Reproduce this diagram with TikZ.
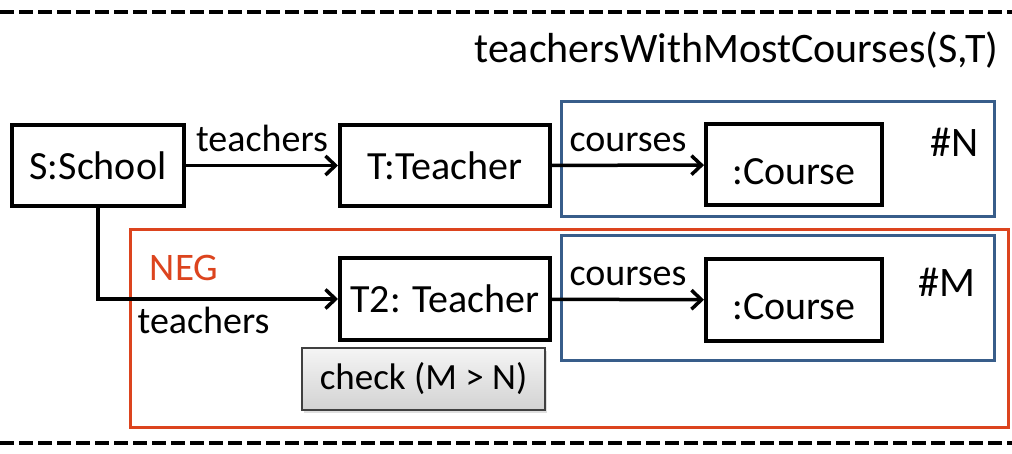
\documentclass[tikz,border=0pt]{standalone}
\usepackage{fontspec}
\setmainfont{Carlito}
\usetikzlibrary{arrows.meta,shadows}

\definecolor{grpblue}{RGB}{56,93,138}
\definecolor{negred}{RGB}{220,68,30}

\begin{document}
\begin{tikzpicture}[
x=0.5pt, y=-0.5pt, % 1 unit = 1 px, y going down
obj/.style={draw, line width=2pt, minimum width=#1, minimum height=40.5pt,
  inner sep=0pt, font=\fontsize{20}{24}\selectfont},
lbl/.style={inner sep=1pt, font=\fontsize{19}{22}\selectfont},
grp/.style={draw=#1, line width=1.5pt},
arr/.style={-{Straight Barb[length=5pt, width=9.5pt, line width=1.75pt]}, line width=1.75pt},
sep/.style={line width=2pt, dash pattern=on 7pt off 2.5pt}
]
\useasboundingbox (0,0) rectangle (1012,454);

% --- Đường phân cách trên/dưới ---
\draw[sep] (0,12) -- (1012,12);
\draw[sep] (0,443) -- (1012,443);

\node[lbl, anchor=east, font=\fontsize{21}{24}\selectfont] (title) at (1001,50) {teachersWithMostCourses(S,T)};

% --- Khung nhóm ---
\draw[grp=grpblue] (561,102) rectangle (994,217);
\draw[grp=grpblue] (561,236) rectangle (994,360);
\draw[grp=negred] (130,230) rectangle (1008,427);
\node[lbl, text=negred, font=\fontsize{19.5}{22}\selectfont] (neg) at (184,268) {NEG};
\node[lbl, font=\fontsize{21}{24}\selectfont] (cntN) at (955,142) {\#N};
\node[lbl, font=\fontsize{21}{24}\selectfont] (cntM) at (947,282) {\#M};

% --- Các đối tượng ---
\node[obj=86pt] (school) at (98,165.5) {S:School};
\node[obj=105pt] (teacher) at (445,165.5) {T:Teacher};
\node[obj=88pt] (course) at (794,165) {\raisebox{-3.5pt}[\height][\depth]{:Course}};
\node[obj=105pt, minimum height=41pt] (teacher2) at (445,299) {T2: Teacher};
\node[obj=88pt] (course2) at (794,300) {\raisebox{-3.5pt}[\height][\depth]{:Course}};

\node[lbl, draw=black!75, line width=0.8pt, minimum width=121.5pt, minimum height=31pt,
  top color=gray!8, bottom color=gray!35, font=\fontsize{18.5}{22}\selectfont,
  drop shadow={opacity=0.25, shadow xshift=1pt, shadow yshift=-1.5pt}]
  (check) at (423.5,379) {check (M > N)};

% --- Các cạnh ---
\draw[arr] (school) -- node[lbl, above, yshift=5pt] {teachers} (teacher);
\draw[arr] (teacher) -- node[lbl, above, yshift=5pt] {courses} (course);
\draw[arr] (teacher2) -- node[lbl, above, yshift=5pt] {courses} (course2);
\draw[arr] (school.south) |- node[lbl, below, pos=0.72, yshift=-2pt] {teachers} (teacher2);

\end{tikzpicture}
\end{document}
